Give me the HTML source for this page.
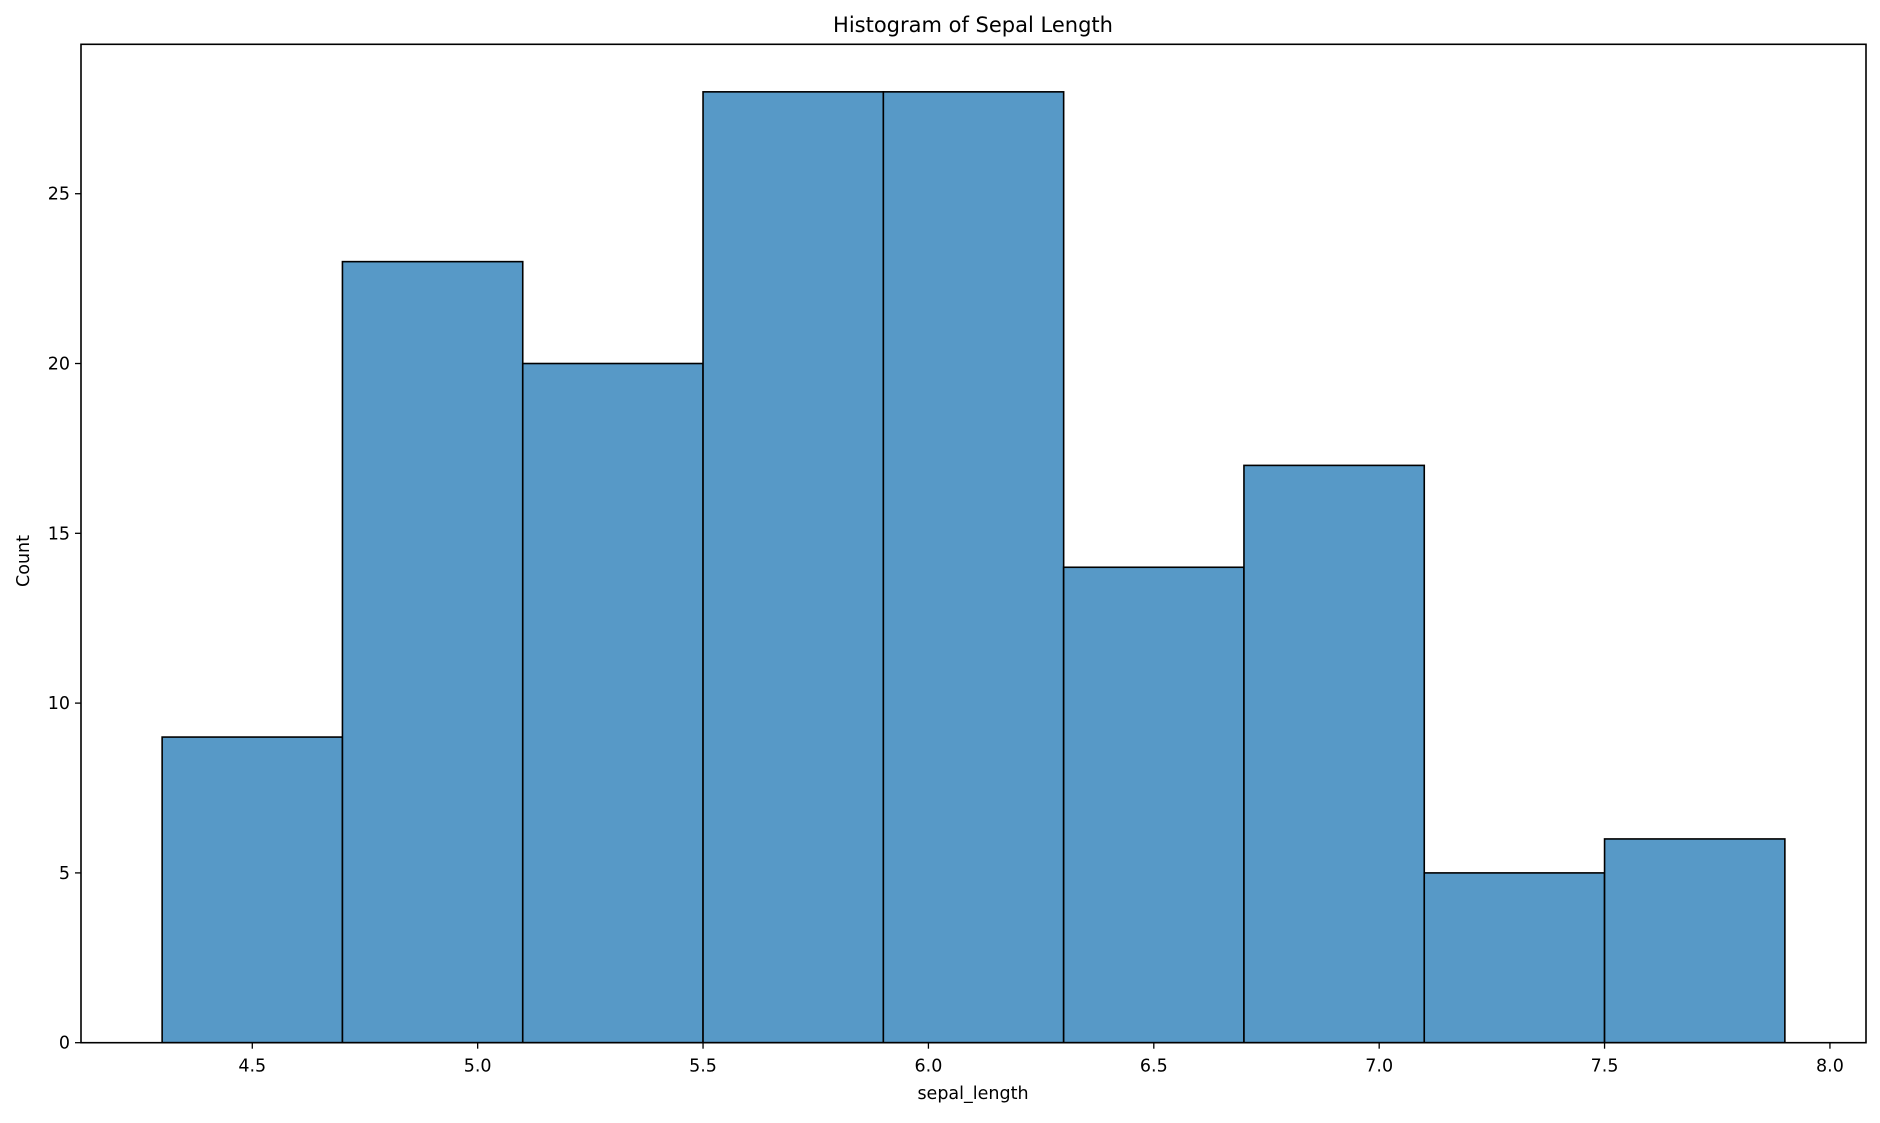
<!DOCTYPE html>
<html><head><meta charset="utf-8"><style>
body{margin:0;background:#fff;}
svg text{font-family:"DejaVu Sans","Liberation Sans",sans-serif;fill:#000;}
</style></head><body>
<svg id="chart" width="1880" height="1118" viewBox="0 0 1880 1118" xmlns="http://www.w3.org/2000/svg">
<text x="973" y="32" font-size="21" text-anchor="middle">Histogram of Sepal Length</text>
<g id="bars"></g>
<g id="ticks"></g>
<rect x="81" y="44.3" width="1785" height="998.4" fill="none" stroke="#000" stroke-width="1.6"/>
<text x="973" y="1099" font-size="17.5" text-anchor="middle">sepal_length</text>
<text x="0" y="0" font-size="17.5" text-anchor="middle" transform="translate(29,561) rotate(-90)">Count</text>
</svg>
<script>
const binEdges=[4.3,4.7,5.1,5.5,5.9,6.3,6.7,7.1,7.5,7.9];
const counts=[9,23,20,28,28,14,17,5,6];
const xTicks=[4.5,5.0,5.5,6.0,6.5,7.0,7.5,8.0];
const xTickLabels=["4.5","5.0","5.5","6.0","6.5","7.0","7.5","8.0"];
const yTicks=[0,5,10,15,20,25];
const yTickLabels=["0","5","10","15","20","25"];
const L=81,R=1866,T=44.3,B=1042.7,XMIN=4.12,XMAX=8.08,YMAX=29.4;
const NS="http://www.w3.org/2000/svg";
function sx(v){return L+(v-XMIN)/(XMAX-XMIN)*(R-L);}
function sy(v){return B-v/YMAX*(B-T);}
const bars=document.getElementById('bars'),ticks=document.getElementById('ticks');
counts.forEach((c,i)=>{
 const r=document.createElementNS(NS,'rect');
 const x0=sx(binEdges[i]),x1=sx(binEdges[i+1]);
 r.setAttribute('x',x0);r.setAttribute('y',sy(c));
 r.setAttribute('width',x1-x0);r.setAttribute('height',B-sy(c));
 r.setAttribute('fill','#5799c7');r.setAttribute('stroke','#000');r.setAttribute('stroke-width','1.6');
 
 
 bars.appendChild(r);
});
xTicks.forEach((v,i)=>{
 const x=sx(v);
 const l=document.createElementNS(NS,'line');
 l.setAttribute('x1',x);l.setAttribute('x2',x);l.setAttribute('y1',B);l.setAttribute('y2',B+6);
 l.setAttribute('stroke','#000');l.setAttribute('stroke-width','1.3');
 
 
 ticks.appendChild(l);
 const t=document.createElementNS(NS,'text');
 t.setAttribute('x',x);t.setAttribute('y',B+29);t.setAttribute('font-size','17.5');t.setAttribute('text-anchor','middle');
 t.textContent=xTickLabels[i];
 
 
 ticks.appendChild(t);
});
yTicks.forEach((v,i)=>{
 const y=sy(v);
 const l=document.createElementNS(NS,'line');
 l.setAttribute('x1',L-6);l.setAttribute('x2',L);l.setAttribute('y1',y);l.setAttribute('y2',y);
 l.setAttribute('stroke','#000');l.setAttribute('stroke-width','1.3');
 
 
 ticks.appendChild(l);
 const t=document.createElementNS(NS,'text');
 t.setAttribute('x',L-11);t.setAttribute('y',y+6);t.setAttribute('font-size','17.5');t.setAttribute('text-anchor','end');
 t.textContent=yTickLabels[i];
 
 
 ticks.appendChild(t);
});
</script>
</body></html>
